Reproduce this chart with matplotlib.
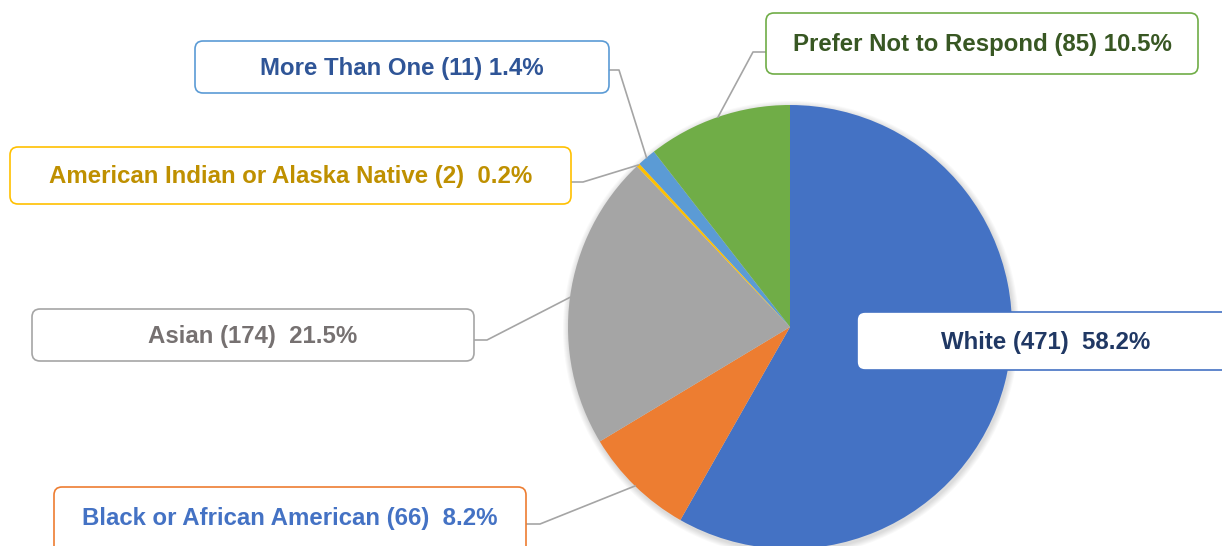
import numpy as np
import matplotlib.pyplot as plt
from matplotlib.patches import FancyBboxPatch, Circle

# data
groups = ["White", "Black or African American", "Asian",
          "American Indian or Alaska Native", "More Than One",
          "Prefer Not to Respond"]
counts = [471, 66, 174, 2, 11, 85]
labels = ["White (471)  58.2%", "Black or African American (66)  8.2%",
          "Asian (174)  21.5%", "American Indian or Alaska Native (2)  0.2%",
          "More Than One (11) 1.4%", "Prefer Not to Respond (85) 10.5%"]
colors = ["#4472C4", "#ED7D31", "#A5A5A5", "#FFC000", "#5B9BD5", "#70AD47"]
text_colors = ["#203864", "#4472C4", "#767171", "#BF9000", "#2F5597", "#385723"]

W, H = 1222, 546
fig = plt.figure(figsize=(W / 100, H / 100), dpi=100)
ax = fig.add_axes([0, 0, 1, 1])

def py(y):
    # pixel y (from top) -> data y
    return H - y

cx, cy, r = 790, py(327), 222

# soft shadow round the pie
for k in range(6):
    ax.add_patch(Circle((cx + 1, cy - 2), r + 1 + k, color="black",
                        alpha=0.025, lw=0, zorder=0))

wedges, _ = ax.pie(counts, colors=colors, startangle=90, counterclock=False,
                   center=(cx, cy), radius=r, frame=True,
                   wedgeprops=dict(linewidth=0))
ax.set_xlim(0, W)
ax.set_ylim(0, H)
ax.set_aspect("equal")
ax.axis("off")

# label boxes: (x0, y0, x1, y1) in pixels, elbow of leader
boxes = [
    (857, 312, 1240, 370, None),
    (54, 487, 526, 560, (540, 524)),
    (32, 309, 474, 361, (487, 340)),
    (10, 147, 571, 204, (583, 182)),
    (195, 41, 609, 93, (619, 70)),
    (766, 13, 1198, 74, (753, 52)),
]
text_y = [343, 518, 337, 177, 69, 45]

for i, (x0, y0, x1, y1, elbow) in enumerate(boxes):
    ax.add_patch(FancyBboxPatch((x0, py(y1)), x1 - x0, y1 - y0,
                                boxstyle="round,pad=0,rounding_size=8",
                                facecolor="white", edgecolor=colors[i],
                                linewidth=1.2, zorder=5))
    tx = (x0 + x1) / 2 if i != 0 else 1046
    ax.text(tx, py(text_y[i]), labels[i], ha="center", va="center",
            fontsize=17.3, fontweight="bold", color=text_colors[i],
            family="Liberation Sans", zorder=6)
    if elbow is not None:
        w = wedges[i]
        mid = np.deg2rad((w.theta1 + w.theta2) / 2)
        ex, ey = cx + r * np.cos(mid), cy + r * np.sin(mid)
        sx = x1 if elbow[0] > x1 else x0
        ax.plot([sx, elbow[0], ex], [py(elbow[1]), py(elbow[1]), ey],
                color="#A5A5A5", linewidth=1.2, zorder=4)

fig.savefig("out.png", dpi=100)
